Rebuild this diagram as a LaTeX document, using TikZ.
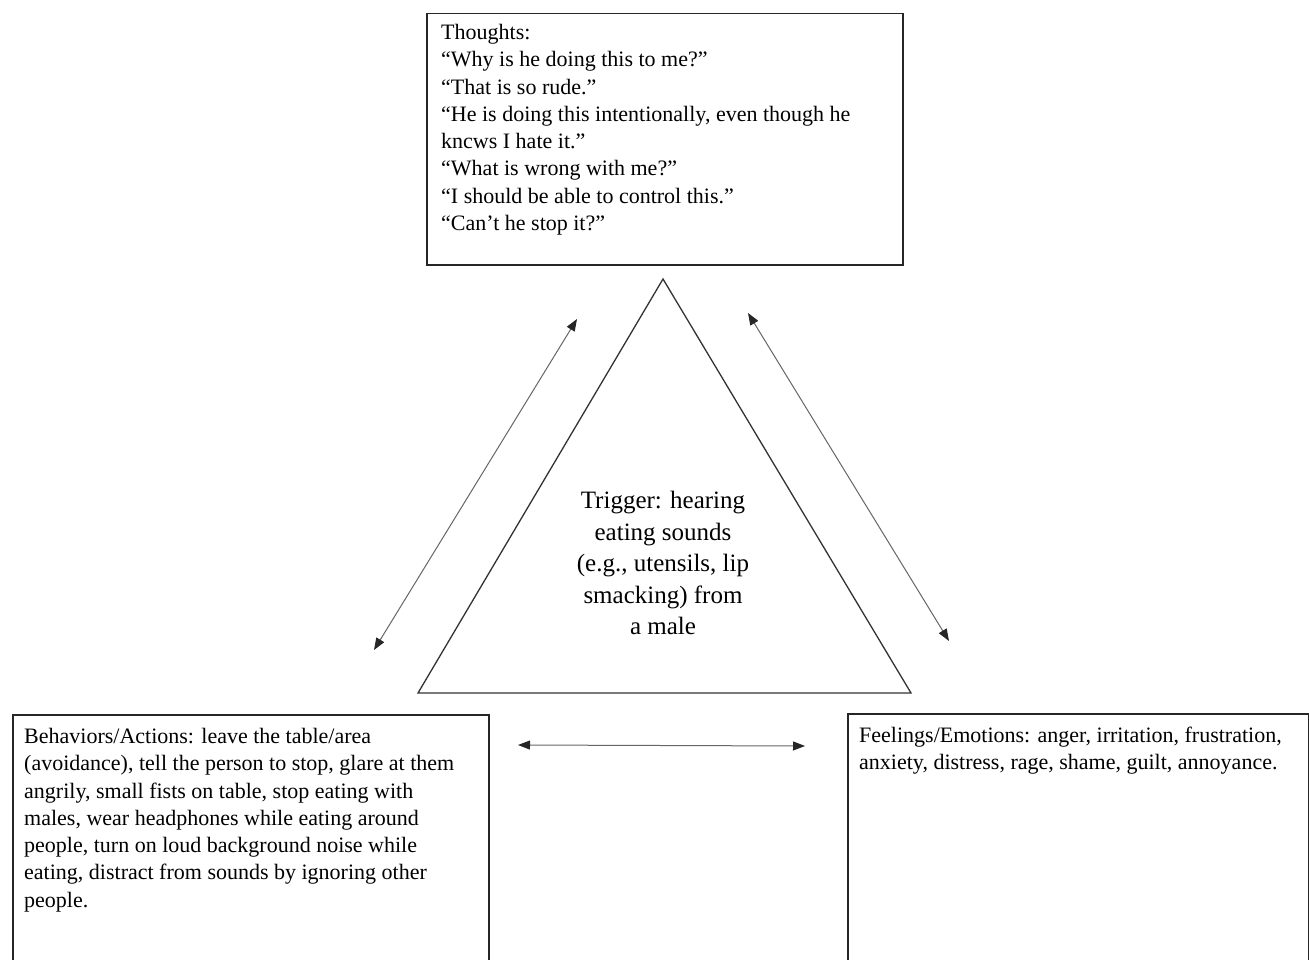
\documentclass[tikz,border=0pt]{standalone}
\usepackage{fontspec}
\setmainfont{Liberation Serif}
\usetikzlibrary{arrows.meta}
\tikzset{
  box/.style={draw=black!85, line width=1.5pt, rectangle, inner sep=0pt, anchor=north west},
  boxtext/.style={anchor=north west, inner sep=0pt, align=left, font=\fontsize{22}{27.3}\selectfont},
  trig/.style={draw=black!80, line width=1.3pt},
  dbl/.style={draw=black!60, line width=1pt, {Triangle[length=12pt,width=9pt,black!85]}-{Triangle[length=12pt,width=9pt,black!85]}},
}
\begin{document}
\begin{tikzpicture}[x=1pt,y=-1pt]
\useasboundingbox (0,0) rectangle (1309,960);
\clip (0,0) rectangle (1309,960);
\fill[white] (0,0) rectangle (1309,960);
% Thoughts box
\node[box, minimum width=476pt, minimum height=251pt] (thoughts) at (426,13) {};
\node[boxtext] (thoughtstext) at (441,24) {Thoughts:\\
``Why is he doing this to me?''\\
``That is so rude.''\\
``He is doing this intentionally, even though he\\
kncws I hate it.''\\
``What is wrong with me?''\\
``I should be able to control this.''\\
``Can't he stop it?''};
% Triangle
\coordinate (apex) at (663,279);
\coordinate (bl) at (418,693);
\coordinate (br) at (911,693);
\draw[trig] (apex) -- (bl) -- (br) -- cycle;
\node[align=center, inner sep=0pt, font=\fontsize{25}{31.5}\selectfont] (trigger) at (663,563) {Trigger: hearing\\eating sounds\\(e.g., utensils, lip\\smacking) from\\a male};
% Arrows
\coordinate (la1) at (577,319);
\coordinate (la2) at (374,650);
\coordinate (ra1) at (748,313);
\coordinate (ra2) at (949,641);
\coordinate (ba1) at (518,745);
\coordinate (ba2) at (805,746);
\draw[dbl] (la1) -- (la2);
\draw[dbl] (ra1) -- (ra2);
\draw[dbl] (ba1) -- (ba2);
% Behaviors box
\node[box, minimum width=476pt, minimum height=270pt] (behav) at (12,714) {};
\node[boxtext] (behavtext) at (24,728) {Behaviors/Actions: leave the table/area\\
(avoidance), tell the person to stop, glare at them\\
angrily, small fists on table, stop eating with\\
males, wear headphones while eating around\\
people, turn on loud background noise while\\
eating, distract from sounds by ignoring other\\
people.};
% Feelings box
\node[box, minimum width=461pt, minimum height=270pt] (feel) at (847,713) {};
\node[boxtext] (feeltext) at (859,727) {Feelings/Emotions: anger, irritation, frustration,\\
anxiety, distress, rage, shame, guilt, annoyance.};
\end{tikzpicture}
\end{document}
